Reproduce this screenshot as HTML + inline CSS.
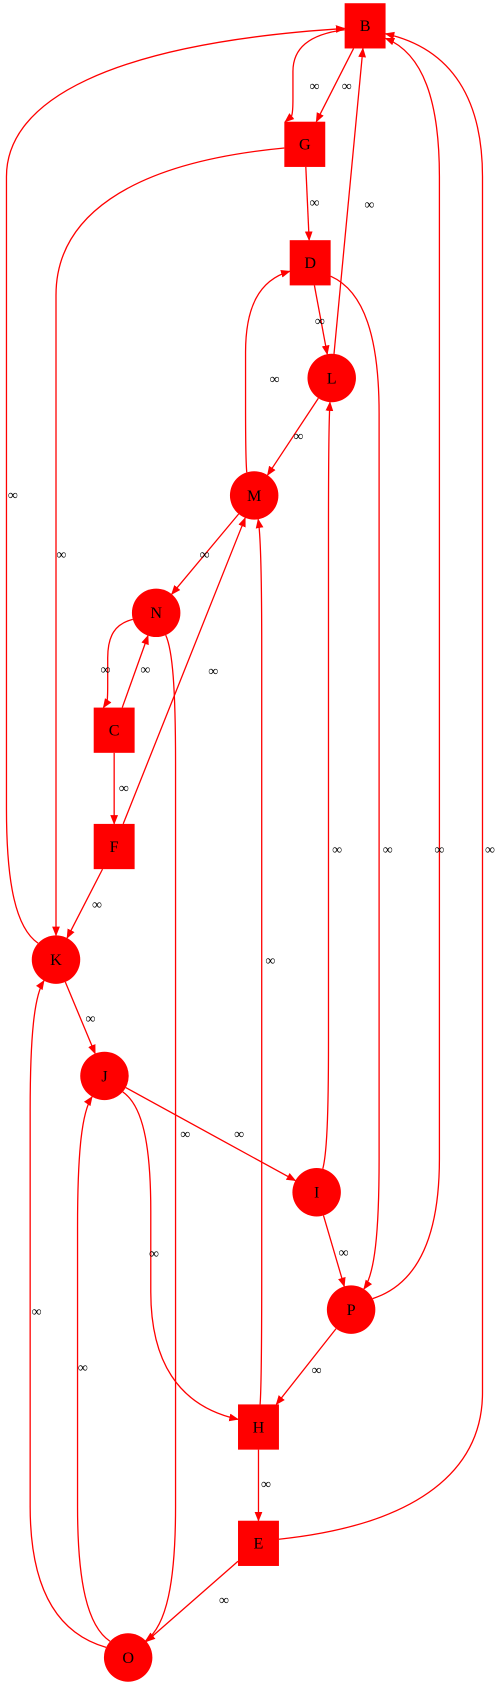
<!DOCTYPE html>
<html><head><meta charset="utf-8"><style>
html,body{margin:0;padding:0;background:#fff;}
svg{display:block;}
text{font-family:"Liberation Serif",serif;}
</style></head><body>
<svg id="g" width="501" height="1685" viewBox="0 0 501 1685">
<defs><marker id="ah" viewBox="0 0 10 10" refX="9" refY="5" markerWidth="9" markerHeight="9" markerUnits="userSpaceOnUse" orient="auto"><path d="M0,1 L10,5 L0,9 z" fill="#f00"/></marker></defs>
<g id="root" transform="scale(1.077)"></g>
</svg>
<script>
const nodeNames = ["B","G","D","L","M","N","C","F","K","J","I","P","H","E","O"];
const nodeShapes = ["s","s","s","c","c","c","s","s","c","c","c","c","s","s","c"];
const nodeX = [339,283,288,308,236,145,106,106,52,97,294,326,240,240,119];
const nodeY = [24,134,244,351,460,569,678,786,891,999,1107,1216,1325,1433,1539];
// edges: from, to, via-x (null = straight), label x, label y
const edgeFrom = ["B","B","G","G","D","D","L","L","M","M","N","C","N","C","F","F","K","K","J","J","I","I","P","P","H","H","E","E","O","O"];
const edgeTo   = ["G","G","D","K","L","P","B","M","D","N","C","N","O","F","M","K","B","J","I","H","L","P","B","H","M","E","B","O","K","J"];
const edgeVia  = [272,null,null,52,null,352,null,null,228,null,100,null,163,null,null,null,6,null,null,140,305,null,408,null,243,null,448,null,28,72];
const edgeLX   = [292,322,292,57,297,360,343,277,255,190,98,135,172,115,198,90,12,84,222,143,313,319,408,294,251,247,455,208,34,77];
const edgeLY   = [80,80,188,515,298,789,190,405,352,515,622,622,1053,732,623,840,460,946,1053,1164,789,1163,789,1272,892,1378,789,1486,1218,1270];

const NS="http://www.w3.org/2000/svg";
const root=document.getElementById('root');
const HW=19,HH=21,R=22.5;
function idx(n){return nodeNames.indexOf(n);}
function boundary(i,tx,ty){
  const cx=nodeX[i],cy=nodeY[i];let dx=tx-cx,dy=ty-cy;const L=Math.hypot(dx,dy)||1;
  if(nodeShapes[i]==="c"){return [cx+dx/L*R,cy+dy/L*R];}
  const t=Math.min(HW/Math.abs(dx||1e-9),HH/Math.abs(dy||1e-9));
  return [cx+dx*t,cy+dy*t];
}
for(let k=0;k<edgeFrom.length;k++){
  const a=idx(edgeFrom[k]),b=idx(edgeTo[k]);
  let d;
  if(edgeVia[k]===null){
    const p=boundary(a,nodeX[b],nodeY[b]),q=boundary(b,nodeX[a],nodeY[a]);
    d=`M${p[0]},${p[1]} L${q[0]},${q[1]}`;
  }else{
    const vx=edgeVia[k],s=nodeY[b]>nodeY[a]?1:-1;
    const span=Math.abs(nodeY[b]-nodeY[a]);const dy=Math.min(140,span/2.6);
    const p=boundary(a,vx,nodeY[a]+s*dy*0.3);
    const q=boundary(b,vx,nodeY[b]-s*dy*0.3);
    const y1=nodeY[a]+s*dy,y2=nodeY[b]-s*dy;
    d=`M${p[0]},${p[1]} C${p[0]+(vx-p[0])*0.7},${p[1]+s*dy*0.1} ${vx},${y1-s*dy*0.5} ${vx},${y1} L${vx},${y2} C${vx},${y2+s*dy*0.5} ${q[0]+(vx-q[0])*0.7},${q[1]-s*dy*0.1} ${q[0]},${q[1]}`;
  }
  const path=document.createElementNS(NS,'path');
  path.setAttribute('d',d);path.setAttribute('fill','none');path.setAttribute('stroke','#f00');
  path.setAttribute('stroke-width','1.2');path.setAttribute('marker-end','url(#ah)');
  
  
  root.appendChild(path);
  const t=document.createElementNS(NS,'text');
  t.setAttribute('x',edgeLX[k]);t.setAttribute('y',edgeLY[k]+4);t.setAttribute('font-size','13');
  t.setAttribute('text-anchor','middle');t.textContent='∞';
  
  
  root.appendChild(t);
}
for(let i=0;i<nodeNames.length;i++){
  let sh;
  if(nodeShapes[i]==="c"){sh=document.createElementNS(NS,'circle');sh.setAttribute('cx',nodeX[i]);sh.setAttribute('cy',nodeY[i]);sh.setAttribute('r',R);}
  else{sh=document.createElementNS(NS,'rect');sh.setAttribute('x',nodeX[i]-HW);sh.setAttribute('y',nodeY[i]-HH);sh.setAttribute('width',HW*2);sh.setAttribute('height',HH*2);}
  sh.setAttribute('fill','#f00');
  
  
  root.appendChild(sh);
  const t=document.createElementNS(NS,'text');
  t.setAttribute('x',nodeX[i]);t.setAttribute('y',nodeY[i]+5);t.setAttribute('font-size','15');
  t.setAttribute('text-anchor','middle');t.textContent=nodeNames[i];
  
  
  root.appendChild(t);
}
</script>
</body></html>
